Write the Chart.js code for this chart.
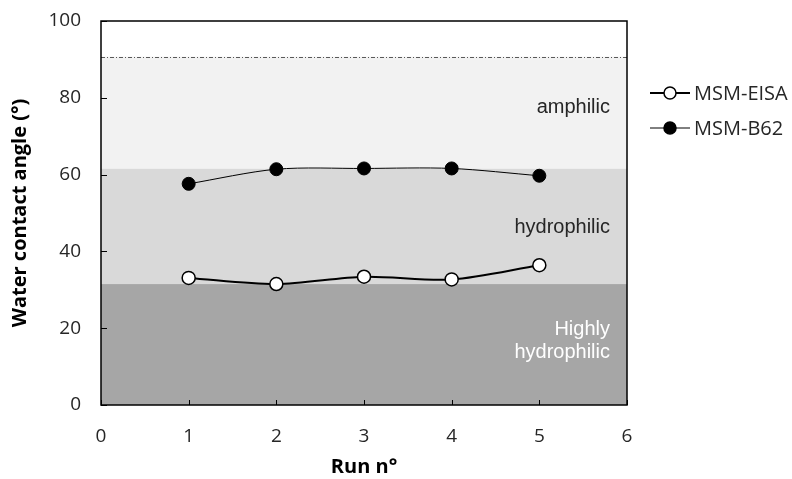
<!DOCTYPE html>
<html lang="en">
<head>
  <meta charset="UTF-8" />
  <title>Water contact angle</title>
  <script src="https://cdn.jsdelivr.net/npm/chart.js"></script>
  <style>
    body { margin: 0; background: #ffffff; }
    .wrap { width: 792px; height: 479px; }
  </style>
</head>
<body>
  <div class="wrap"><canvas id="chart" width="792" height="479"></canvas></div>
  <script>
    const runs = [1, 2, 3, 4, 5];
    const eisa = [33.1, 31.5, 33.4, 32.7, 36.4];
    const b62 = [57.6, 61.4, 61.6, 61.6, 59.7];
    // wettability zones
    const zoneLimits = [0, 31.5, 61.6, 90.7];
    const zoneFills = ['#a6a6a6', '#d9d9d9', '#f2f2f2'];
    const zoneLabels = [['Highly', 'hydrophilic'], ['hydrophilic'], ['amphilic']];
    const zoneLabelY = [16.8, 46.3, 77.5];
    const zoneLabelColors = ['#ffffff', '#262626', '#262626'];

    const sans = '"Open Sans", sans-serif';

    const zonesPlugin = {
      id: 'zones',
      beforeDatasetsDraw(chart) {
        const { ctx, chartArea: a, scales: { y } } = chart;
        ctx.save();
        for (let i = 0; i < zoneFills.length; i++) {
          const top = y.getPixelForValue(zoneLimits[i + 1]);
          const bot = y.getPixelForValue(zoneLimits[i]);
          ctx.fillStyle = zoneFills[i];
          ctx.fillRect(a.left, top, a.right - a.left, bot - top);
        }
        // dash-dot limit line
        const ly = Math.round(y.getPixelForValue(zoneLimits[3])) + 0.5;
        ctx.strokeStyle = '#595959';
        ctx.lineWidth = 1;
        ctx.setLineDash([4, 2, 1, 2]);
        ctx.beginPath();
        ctx.moveTo(a.left, ly);
        ctx.lineTo(a.right, ly);
        ctx.stroke();
        ctx.setLineDash([]);
        // zone labels
        ctx.font = '20px "Liberation Sans", Arial, sans-serif';
        ctx.textAlign = 'right';
        ctx.textBaseline = 'middle';
        zoneLabels.forEach((lines, i) => {
          ctx.fillStyle = zoneLabelColors[i];
          const cy = y.getPixelForValue(zoneLabelY[i]);
          lines.forEach((t, k) => {
            ctx.fillText(t, a.right - 17, cy + (k - (lines.length - 1) / 2) * 23);
          });
        });
        ctx.restore();
      },
      afterDatasetsDraw(chart) {
        const { ctx, chartArea: a, scales: { x, y } } = chart;
        ctx.save();
        ctx.strokeStyle = '#000000';
        ctx.lineWidth = 1.5;
        ctx.strokeRect(a.left, a.top, a.right - a.left, a.bottom - a.top);
        ctx.lineWidth = 1;
        ctx.beginPath();
        x.ticks.forEach(t => {
          const px = Math.round(x.getPixelForValue(t.value)) + 0.5;
          ctx.moveTo(px, a.bottom);
          ctx.lineTo(px, a.bottom - 5);
        });
        y.ticks.forEach(t => {
          const py = Math.round(y.getPixelForValue(t.value)) + 0.5;
          ctx.moveTo(a.left, py);
          ctx.lineTo(a.left + 6, py);
        });
        ctx.stroke();
        ctx.restore();
      },
      afterDraw(chart) {
        const { ctx } = chart;
        ctx.save();
        ctx.font = '20px ' + sans;
        ctx.textBaseline = 'middle';
        ctx.textAlign = 'left';
        chart.data.datasets.forEach((ds, i) => {
          const ly = 93 + i * 35;
          ctx.strokeStyle = '#000000';
          ctx.lineWidth = ds.borderWidth;
          ctx.beginPath();
          ctx.moveTo(650, ly);
          ctx.lineTo(690, ly);
          ctx.stroke();
          ctx.beginPath();
          ctx.arc(670, ly, 6, 0, Math.PI * 2);
          ctx.fillStyle = ds.pointBackgroundColor;
          ctx.fill();
          ctx.lineWidth = 1.5;
          ctx.stroke();
          ctx.fillStyle = '#262626';
          ctx.fillText(ds.label, 694, ly + 1);
        });
        ctx.restore();
      }
    };

    new Chart(document.getElementById('chart'), {
      type: 'line',
      data: {
        datasets: [
          {
            label: 'MSM-EISA',
            data: runs.map((r, i) => ({ x: r, y: eisa[i] })),
            borderColor: '#000000',
            borderWidth: 2,
            pointRadius: 6.5,
            pointBorderWidth: 1.5,
            pointBackgroundColor: '#ffffff',
            pointBorderColor: '#000000',
            tension: 0.3
          },
          {
            label: 'MSM-B62',
            data: runs.map((r, i) => ({ x: r, y: b62[i] })),
            borderColor: '#000000',
            borderWidth: 1,
            pointRadius: 6.5,
            pointBorderWidth: 1,
            pointBackgroundColor: '#000000',
            pointBorderColor: '#000000',
            tension: 0.3
          }
        ]
      },
      options: {
        responsive: false,
        animation: false,
        layout: { padding: { left: 6, top: 0, right: 165, bottom: 0 } },
        plugins: {
          legend: { display: false },
          tooltip: { enabled: false }
        },
        scales: {
          x: {
            type: 'linear',
            min: 0,
            max: 6,
            ticks: { stepSize: 1, font: { size: 19, family: sans }, color: '#262626', padding: 20 },
            grid: { display: false, drawTicks: false },
            border: { display: false },
            title: { display: true, text: 'Run n°', font: { size: 20, weight: 'bold', family: sans }, color: '#000000', padding: { top: 4, bottom: 0 } },
            afterFit(scale) { scale.height = 74; }
          },
          y: {
            min: 0,
            max: 100,
            ticks: { stepSize: 20, font: { size: 19, family: sans }, color: '#262626', padding: 20 },
            grid: { display: false, drawTicks: false },
            border: { display: false },
            title: { display: true, text: 'Water contact angle (°)', font: { size: 20, weight: 'bold', family: sans }, color: '#000000', padding: { top: 2, bottom: 4 } },
            afterFit(scale) {
              scale.width = 95;
              scale.paddingTop = 21;
              scale.paddingBottom = 0;
            }
          }
        }
      },
      plugins: [zonesPlugin]
    });
  </script>
</body>
</html>
